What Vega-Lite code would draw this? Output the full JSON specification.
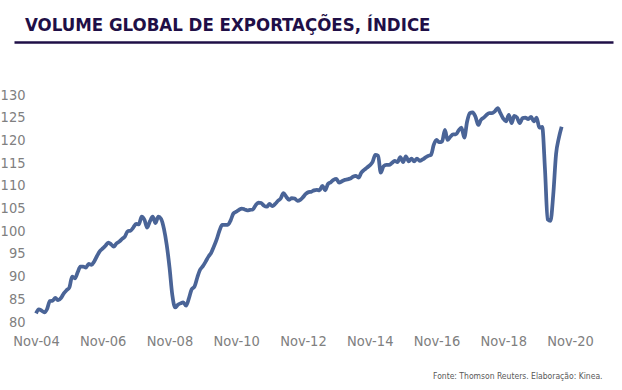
{
  "$schema": "https://vega.github.io/schema/vega-lite/v6.json",
  "width": 599,
  "height": 227,
  "autosize": {"type": "none"},
  "padding": {"left": 14, "top": 95, "right": 9, "bottom": 68},
  "background": "white",
  "config": {"view": {"stroke": null}, "font": "DejaVu Sans Condensed"},
  "title": {
    "text": "VOLUME GLOBAL DE EXPORTAÇÕES, ÍNDICE",
    "anchor": "start",
    "frame": "group",
    "dx": 11,
    "offset": 8,
    "font": "DejaVu Sans Condensed",
    "fontSize": 18.5,
    "fontWeight": "bold",
    "color": "#1F0F47"
  },
  "data": {
    "values": [
      {"date": "2004-11-01", "v": 81.9}, {"date": "2004-12-01", "v": 82.8},
      {"date": "2005-01-01", "v": 82.5}, {"date": "2005-02-01", "v": 82.1}, {"date": "2005-03-01", "v": 82.8}, {"date": "2005-04-01", "v": 84.6}, {"date": "2005-05-01", "v": 84.7}, {"date": "2005-06-01", "v": 85.3}, {"date": "2005-07-01", "v": 84.8}, {"date": "2005-08-01", "v": 85.3}, {"date": "2005-09-01", "v": 86.3}, {"date": "2005-10-01", "v": 87.0}, {"date": "2005-11-01", "v": 87.6}, {"date": "2005-12-01", "v": 90.0},
      {"date": "2006-01-01", "v": 89.6}, {"date": "2006-02-01", "v": 91.0}, {"date": "2006-03-01", "v": 92.2}, {"date": "2006-04-01", "v": 92.2}, {"date": "2006-05-01", "v": 92.0}, {"date": "2006-06-01", "v": 92.8}, {"date": "2006-07-01", "v": 92.6}, {"date": "2006-08-01", "v": 93.4}, {"date": "2006-09-01", "v": 94.6}, {"date": "2006-10-01", "v": 95.6}, {"date": "2006-11-01", "v": 96.2}, {"date": "2006-12-01", "v": 96.8},
      {"date": "2007-01-01", "v": 97.5}, {"date": "2007-02-01", "v": 97.1}, {"date": "2007-03-01", "v": 96.6}, {"date": "2007-04-01", "v": 97.3}, {"date": "2007-05-01", "v": 97.7}, {"date": "2007-06-01", "v": 98.3}, {"date": "2007-07-01", "v": 98.8}, {"date": "2007-08-01", "v": 100.0}, {"date": "2007-09-01", "v": 100.1}, {"date": "2007-10-01", "v": 100.8}, {"date": "2007-11-01", "v": 101.6}, {"date": "2007-12-01", "v": 101.5},
      {"date": "2008-01-01", "v": 103.2}, {"date": "2008-02-01", "v": 102.5}, {"date": "2008-03-01", "v": 100.8}, {"date": "2008-04-01", "v": 102.2}, {"date": "2008-05-01", "v": 103.2}, {"date": "2008-06-01", "v": 101.8}, {"date": "2008-07-01", "v": 103.2}, {"date": "2008-08-01", "v": 102.7}, {"date": "2008-09-01", "v": 100.5}, {"date": "2008-10-01", "v": 97.0}, {"date": "2008-11-01", "v": 92.0}, {"date": "2008-12-01", "v": 86.0},
      {"date": "2009-01-01", "v": 83.2}, {"date": "2009-02-01", "v": 83.8}, {"date": "2009-03-01", "v": 84.1}, {"date": "2009-04-01", "v": 84.3}, {"date": "2009-05-01", "v": 83.6}, {"date": "2009-06-01", "v": 85.2}, {"date": "2009-07-01", "v": 87.2}, {"date": "2009-08-01", "v": 87.8}, {"date": "2009-09-01", "v": 89.8}, {"date": "2009-10-01", "v": 91.5}, {"date": "2009-11-01", "v": 92.3}, {"date": "2009-12-01", "v": 93.3},
      {"date": "2010-01-01", "v": 94.4}, {"date": "2010-02-01", "v": 95.3}, {"date": "2010-03-01", "v": 96.6}, {"date": "2010-04-01", "v": 98.2}, {"date": "2010-05-01", "v": 100.1}, {"date": "2010-06-01", "v": 101.4}, {"date": "2010-07-01", "v": 101.4}, {"date": "2010-08-01", "v": 101.4}, {"date": "2010-09-01", "v": 102.4}, {"date": "2010-10-01", "v": 103.9}, {"date": "2010-11-01", "v": 104.3}, {"date": "2010-12-01", "v": 104.7},
      {"date": "2011-01-01", "v": 105.0}, {"date": "2011-02-01", "v": 104.8}, {"date": "2011-03-01", "v": 104.6}, {"date": "2011-04-01", "v": 104.7}, {"date": "2011-05-01", "v": 104.8}, {"date": "2011-06-01", "v": 105.7}, {"date": "2011-07-01", "v": 106.3}, {"date": "2011-08-01", "v": 106.2}, {"date": "2011-09-01", "v": 105.6}, {"date": "2011-10-01", "v": 105.4}, {"date": "2011-11-01", "v": 106.0}, {"date": "2011-12-01", "v": 105.5},
      {"date": "2012-01-01", "v": 106.0}, {"date": "2012-02-01", "v": 106.7}, {"date": "2012-03-01", "v": 107.2}, {"date": "2012-04-01", "v": 108.4}, {"date": "2012-05-01", "v": 107.6}, {"date": "2012-06-01", "v": 106.9}, {"date": "2012-07-01", "v": 107.3}, {"date": "2012-08-01", "v": 107.2}, {"date": "2012-09-01", "v": 106.7}, {"date": "2012-10-01", "v": 106.9}, {"date": "2012-11-01", "v": 107.5}, {"date": "2012-12-01", "v": 108.2},
      {"date": "2013-01-01", "v": 108.6}, {"date": "2013-02-01", "v": 108.7}, {"date": "2013-03-01", "v": 109.0}, {"date": "2013-04-01", "v": 109.1}, {"date": "2013-05-01", "v": 109.0}, {"date": "2013-06-01", "v": 110.0}, {"date": "2013-07-01", "v": 109.0}, {"date": "2013-08-01", "v": 110.4}, {"date": "2013-09-01", "v": 110.8}, {"date": "2013-10-01", "v": 111.3}, {"date": "2013-11-01", "v": 111.5}, {"date": "2013-12-01", "v": 110.7},
      {"date": "2014-01-01", "v": 111.0}, {"date": "2014-02-01", "v": 111.3}, {"date": "2014-03-01", "v": 111.4}, {"date": "2014-04-01", "v": 111.6}, {"date": "2014-05-01", "v": 112.0}, {"date": "2014-06-01", "v": 112.2}, {"date": "2014-07-01", "v": 111.8}, {"date": "2014-08-01", "v": 112.9}, {"date": "2014-09-01", "v": 113.5}, {"date": "2014-10-01", "v": 114.0}, {"date": "2014-11-01", "v": 114.5}, {"date": "2014-12-01", "v": 115.2},
      {"date": "2015-01-01", "v": 116.8}, {"date": "2015-02-01", "v": 116.6}, {"date": "2015-03-01", "v": 112.9}, {"date": "2015-04-01", "v": 114.3}, {"date": "2015-05-01", "v": 114.6}, {"date": "2015-06-01", "v": 114.6}, {"date": "2015-07-01", "v": 115.0}, {"date": "2015-08-01", "v": 115.5}, {"date": "2015-09-01", "v": 115.2}, {"date": "2015-10-01", "v": 116.3}, {"date": "2015-11-01", "v": 115.2}, {"date": "2015-12-01", "v": 116.5},
      {"date": "2016-01-01", "v": 115.4}, {"date": "2016-02-01", "v": 116.0}, {"date": "2016-03-01", "v": 115.4}, {"date": "2016-04-01", "v": 116.0}, {"date": "2016-05-01", "v": 115.5}, {"date": "2016-06-01", "v": 115.8}, {"date": "2016-07-01", "v": 116.2}, {"date": "2016-08-01", "v": 116.6}, {"date": "2016-09-01", "v": 116.8}, {"date": "2016-10-01", "v": 119.0}, {"date": "2016-11-01", "v": 120.1}, {"date": "2016-12-01", "v": 119.6},
      {"date": "2017-01-01", "v": 119.8}, {"date": "2017-02-01", "v": 122.3}, {"date": "2017-03-01", "v": 120.1}, {"date": "2017-04-01", "v": 120.8}, {"date": "2017-05-01", "v": 121.3}, {"date": "2017-06-01", "v": 121.3}, {"date": "2017-07-01", "v": 122.2}, {"date": "2017-08-01", "v": 122.8}, {"date": "2017-09-01", "v": 120.6}, {"date": "2017-10-01", "v": 124.1}, {"date": "2017-11-01", "v": 126.0}, {"date": "2017-12-01", "v": 126.2},
      {"date": "2018-01-01", "v": 125.2}, {"date": "2018-02-01", "v": 123.4}, {"date": "2018-03-01", "v": 124.5}, {"date": "2018-04-01", "v": 125.0}, {"date": "2018-05-01", "v": 125.6}, {"date": "2018-06-01", "v": 126.0}, {"date": "2018-07-01", "v": 126.0}, {"date": "2018-08-01", "v": 126.4}, {"date": "2018-09-01", "v": 127.1}, {"date": "2018-10-01", "v": 126.0}, {"date": "2018-11-01", "v": 124.8}, {"date": "2018-12-01", "v": 124.2},
      {"date": "2019-01-01", "v": 125.6}, {"date": "2019-02-01", "v": 123.8}, {"date": "2019-03-01", "v": 125.4}, {"date": "2019-04-01", "v": 125.0}, {"date": "2019-05-01", "v": 123.8}, {"date": "2019-06-01", "v": 124.9}, {"date": "2019-07-01", "v": 125.0}, {"date": "2019-08-01", "v": 124.7}, {"date": "2019-09-01", "v": 125.2}, {"date": "2019-10-01", "v": 124.2}, {"date": "2019-11-01", "v": 125.0}, {"date": "2019-12-01", "v": 122.8},
      {"date": "2020-01-01", "v": 123.0}, {"date": "2020-02-01", "v": 113.5}, {"date": "2020-03-01", "v": 102.6}, {"date": "2020-04-01", "v": 102.3}, {"date": "2020-05-01", "v": 108.0}, {"date": "2020-06-01", "v": 117.0}, {"date": "2020-07-01", "v": 120.5}, {"date": "2020-08-01", "v": 123.0}
    ]
  },
  "layer": [
    {
      "mark": {"type": "line", "strokeOpacity": 0},
      "encoding": {
        "x": {
          "field": "date",
          "type": "temporal",
          "scale": {"type": "utc", "domain": [{"year": 2004, "month": 3, "date": 5, "utc": true}, {"year": 2022, "month": 2, "date": 14, "utc": true}]},
          "axis": {"orient": "top", "offset": 53, "domain": true, "domainColor": "#1F0F47", "domainWidth": 2.5, "ticks": false, "labels": false, "grid": false, "title": null}
        },
        "y": {
          "field": "v",
          "type": "quantitative",
          "scale": {"domain": [80, 130], "nice": false, "zero": false},
          "axis": {"values": [80, 85, 90, 95, 100, 105, 110, 115, 120, 125, 130], "domain": false, "ticks": false, "tickSize": 0, "grid": false, "labelAlign": "right", "labelPadding": -11, "labelFont": "DejaVu Sans Condensed", "labelFontSize": 14.5, "labelColor": "#808080", "labelFlush": false, "labelOverlap": false, "title": null}
        }
      }
    },
    {
      "mark": {"type": "line", "color": "#4A6497", "strokeWidth": 3.75, "interpolate": "monotone"},
      "encoding": {
        "x": {
          "field": "date",
          "type": "temporal",
          "scale": {"type": "utc", "domain": [{"year": 2004, "month": 3, "date": 5, "utc": true}, {"year": 2022, "month": 2, "date": 14, "utc": true}]},
          "axis": {
            "orient": "bottom",
            "values": [
              {"year": 2004, "month": 11, "date": 1, "utc": true}, {"year": 2006, "month": 11, "date": 1, "utc": true}, {"year": 2008, "month": 11, "date": 1, "utc": true}, {"year": 2010, "month": 11, "date": 1, "utc": true}, {"year": 2012, "month": 11, "date": 1, "utc": true}, {"year": 2014, "month": 11, "date": 1, "utc": true}, {"year": 2016, "month": 11, "date": 1, "utc": true}, {"year": 2018, "month": 11, "date": 1, "utc": true}, {"year": 2020, "month": 11, "date": 1, "utc": true}
            ],
            "labelExpr": "utcFormat(datum.value, '%b-%y')",
            "domain": false,
            "ticks": false,
            "tickSize": 0,
            "grid": false,
            "labelPadding": 12,
            "labelFont": "DejaVu Sans Condensed",
            "labelFontSize": 14.5,
            "labelColor": "#808080",
            "labelAngle": 0,
            "labelFlush": false,
            "labelOverlap": false,
            "title": "Fonte: Thomson Reuters. Elaboração: Kinea.",
            "titleAnchor": "end",
            "titleAlign": "right",
            "titleX": 588,
            "titleY": 53,
            "titleBaseline": "middle",
            "titleFont": "DejaVu Sans Condensed",
            "titleFontSize": 8.5,
            "titleFontWeight": "normal",
            "titleColor": "#595959"
          }
        },
        "y": {
          "field": "v",
          "type": "quantitative",
          "scale": {"domain": [80, 130], "nice": false, "zero": false},
          "axis": {"values": [80, 85, 90, 95, 100, 105, 110, 115, 120, 125, 130], "domain": false, "ticks": false, "tickSize": 0, "grid": false, "labelAlign": "right", "labelPadding": -11, "labelFont": "DejaVu Sans Condensed", "labelFontSize": 14.5, "labelColor": "#808080", "labelFlush": false, "labelOverlap": false, "title": null}
        }
      }
    }
  ],
  "resolve": {"axis": {"x": "independent"}}
}
